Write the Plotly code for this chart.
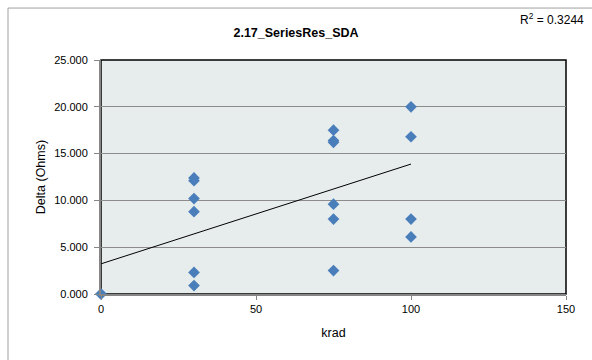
import numpy as np
import plotly.graph_objects as go

krad = [0, 0, 30, 30, 30, 30, 30, 30, 75, 75, 75, 75, 75, 75, 100, 100, 100, 100]
delta = [0.0, 0.0, 12.4, 12.1, 10.2, 8.8, 2.3, 0.9,
         17.5, 16.4, 16.2, 9.6, 8.0, 2.5, 20.0, 16.8, 8.0, 6.1]
x_ticks = [0, 50, 100, 150]
y_ticks = [0, 5, 10, 15, 20, 25]

# linear trendline (Excel style, drawn over data range)
slope, intercept = np.polyfit(krad, delta, 1)
trend_x = [min(krad), max(krad)]
trend_y = [intercept + slope * v for v in trend_x]

font = "Liberation Sans"

fig = go.Figure()

fig.add_trace(go.Scatter(
    x=krad, y=delta, mode="markers",
    marker=dict(symbol="diamond", size=9, color="#4A7EBB"),
    cliponaxis=False, showlegend=False
))
fig.add_trace(go.Scatter(
    x=trend_x, y=trend_y, mode="lines",
    line=dict(color="black", width=1), showlegend=False
))

fig.update_layout(
    width=592, height=360,
    margin=dict(l=101, r=26, t=60, b=66, autoexpand=False),
    paper_bgcolor="white",
    plot_bgcolor="#E7ECEC",
    font=dict(family=font, size=11, color="black"),
    title=dict(text="<b>2.17_SeriesRes_SDA</b>", x=0.5, xanchor="center",
               y=0.91, yanchor="middle", font=dict(size=12.5)),
    xaxis=dict(
        range=[0, 150], tickvals=x_ticks, ticktext=[str(v) for v in x_ticks],
        showgrid=False, zeroline=False,
        showline=True, linecolor="#868686", linewidth=2,
        ticks="outside", ticklen=4, tickcolor="#868686",
        title=dict(text="krad", font=dict(size=12.5), standoff=14),
    ),
    yaxis=dict(
        range=[0, 25], tickvals=y_ticks, ticktext=["%.3f" % v for v in y_ticks],
        showgrid=True, gridcolor="#8C8C8C", gridwidth=1, zeroline=False,
        showline=True, linecolor="#868686", linewidth=2,
        ticks="outside", ticklen=5, tickcolor="#868686", ticklabelstandoff=4,
        title=dict(text="Delta (Ohms)", font=dict(size=12.5), standoff=6),
    ),
    shapes=[
        dict(type="rect", xref="paper", yref="paper", x0=0, x1=1, y0=0, y1=1,
             line=dict(color="black", width=1.5), layer="below"),
        dict(type="rect", xref="paper", yref="paper", x0=-0.2, x1=1.1, y0=-0.5, y1=1.222,
             line=dict(color="#A0A0A0", width=1)),
    ],
    annotations=[
        dict(text="R<sup>2</sup> = 0.3244", xref="paper", yref="paper",
             x=1.043, y=1.175, xanchor="right", yanchor="middle",
             showarrow=False, font=dict(size=12)),
    ],
)

# page body has a default 8px margin; drop it so the figure fills the window
fig.write_html("out.html", config={"displayModeBar": False},
               post_script="document.body.style.margin='0';")
